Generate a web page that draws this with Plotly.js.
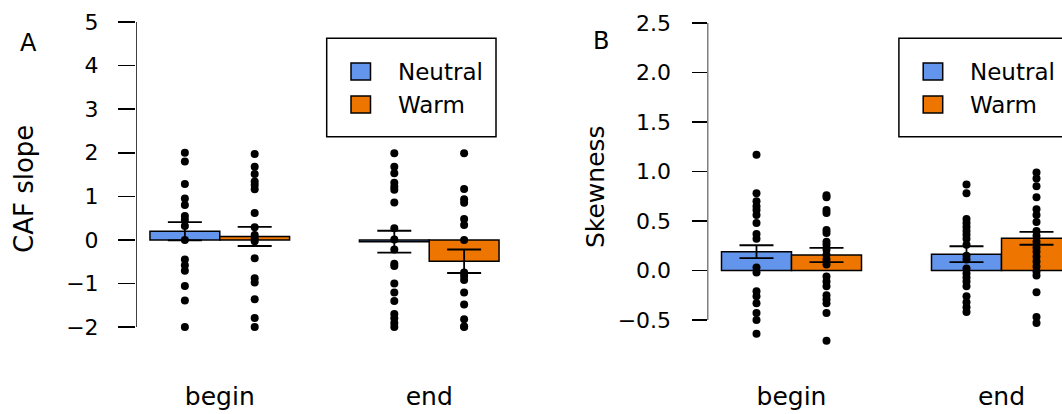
<!DOCTYPE html>
<html><head><meta charset="utf-8">
<script src="https://cdn.plot.ly/plotly-3.0.1.min.js"></script>
<style>html,body{margin:0;padding:0;background:#fff}</style>
</head><body><div id="chart" style="width:1062px;height:414px"></div>
<script>
// ---------- data ----------
const categories = ['begin', 'end'];
const conditions = ['Neutral', 'Warm'];

const cafNeutralMeans = [0.20, -0.04];
const cafWarmMeans    = [0.08, -0.49];
const cafNeutralSE    = [0.21, 0.25];
const cafWarmSE       = [0.22, 0.27];

const skewNeutralMeans = [0.19, 0.165];
const skewWarmMeans    = [0.157, 0.325];
const skewNeutralSE    = [0.065, 0.08];
const skewWarmSE       = [0.072, 0.065];

const cafNeutralBegin = [2.00, 1.80, 1.28, 0.95, 0.80, 0.55, 0.46, 0.32, 0.00, -0.45, -0.58, -0.71, -1.06, -1.39, -2.00];
const cafWarmBegin    = [1.97, 1.68, 1.51, 1.34, 1.26, 1.16, 0.62, 0.29, 0.11, 0.04, -0.03, -0.42, -0.88, -0.98, -1.36, -1.79, -2.00];
const cafNeutralEnd   = [1.99, 1.68, 1.53, 1.31, 1.22, 1.15, 0.86, 0.27, 0.01, -0.22, -0.55, -0.60, -1.00, -1.21, -1.40, -1.70, -1.80, -1.91, -2.00];
const cafWarmEnd      = [1.99, 1.17, 0.93, 0.85, 0.48, 0.34, 0.00, -0.75, -0.83, -0.92, -1.21, -1.48, -1.82, -1.99, -2.00];

const skewNeutralBegin = [1.17, 0.78, 0.70, 0.65, 0.61, 0.56, 0.48, 0.37, 0.32, 0.03, -0.02, -0.21, -0.26, -0.33, -0.43, -0.50, -0.64];
const skewWarmBegin    = [0.76, 0.74, 0.61, 0.58, 0.41, 0.38, 0.29, 0.26, 0.21, 0.16, 0.11, 0.06, -0.06, -0.11, -0.16, -0.25, -0.29, -0.33, -0.43, -0.71];
const skewNeutralEnd   = [0.87, 0.78, 0.52, 0.48, 0.44, 0.40, 0.36, 0.32, 0.26, 0.15, 0.11, 0.02, -0.03, -0.07, -0.11, -0.16, -0.26, -0.32, -0.37, -0.42];
const skewWarmEnd      = [0.99, 0.93, 0.85, 0.74, 0.62, 0.56, 0.49, 0.40, 0.35, 0.29, 0.23, 0.19, 0.14, 0.09, 0.04, -0.01, -0.05, -0.22, -0.47, -0.53];

const cafTickVals = [-2, -1, 0, 1, 2, 3, 4, 5];
const cafTickText = ['\u22122', '\u22121', '0', '1', '2', '3', '4', '5'];
const skewTickVals = [-0.5, 0, 0.5, 1, 1.5, 2, 2.5];
const skewTickText = ['\u22120.5', '0.0', '0.5', '1.0', '1.5', '2.0', '2.5'];

// ---------- styling ----------
const W = 1062, H = 414;
const FONT = 'DejaVu Sans, Liberation Sans, Arial, sans-serif';
const colors = {Neutral: '#6495ED', Warm: '#EE7600'};
const px = x => x / W;
const py = y => 1 - y / H;

// bar centre: groups of 2 bars, width 1, space 1 between groups
const barPos = (g, c) => 1 + g * 3 + c + 0.5;
const groupCentre = g => 1 + g * 3 + 1;

function panelTraces(xa, ya, means, ses, pts) {
  const tr = [];
  conditions.forEach((cond, c) => {
    tr.push({
      type: 'bar', xaxis: xa, yaxis: ya,
      x: categories.map((_, g) => barPos(g, c)),
      y: means[c], width: 1,
      marker: {color: colors[cond], line: {color: '#000', width: 1.5}},
      error_y: {type: 'data', array: ses[c], visible: true, color: '#000', thickness: 1.8, width: 17},
      showlegend: false, hoverinfo: 'skip'
    });
  });
  conditions.forEach((cond, c) => {
    categories.forEach((cat, g) => {
      const vals = pts[c][g];
      tr.push({
        type: 'scatter', mode: 'markers', xaxis: xa, yaxis: ya,
        x: vals.map(() => barPos(g, c)), y: vals,
        marker: {color: '#000', size: 8},
        showlegend: false, hoverinfo: 'skip', cliponaxis: false
      });
    });
  });
  return tr;
}

const traces = [].concat(
  panelTraces('x', 'y',
    [cafNeutralMeans, cafWarmMeans], [cafNeutralSE, cafWarmSE],
    [[cafNeutralBegin, cafNeutralEnd], [cafWarmBegin, cafWarmEnd]]),
  panelTraces('x2', 'y2',
    [skewNeutralMeans, skewWarmMeans], [skewNeutralSE, skewWarmSE],
    [[skewNeutralBegin, skewNeutralEnd], [skewWarmBegin, skewWarmEnd]])
);

const yDom = [py(350), py(5)];
const xAxisCommon = {
  showgrid: false, zeroline: false, showline: false, ticks: '',
  tickvals: categories.map((_, g) => groupCentre(g)), ticktext: categories,
  tickfont: {family: FONT, size: 25, color: '#000'}, ticklabelstandoff: 29, fixedrange: true
};
const yAxisCommon = {
  showgrid: false, zeroline: false, showline: false,
  ticks: 'outside', tickcolor: '#000', tickwidth: 1.5,
  tickfont: {family: FONT, size: 22, color: '#000'}, fixedrange: true
};

const layout = {
  width: W, height: H, margin: {l: 0, r: 0, t: 0, b: 0},
  paper_bgcolor: '#fff', plot_bgcolor: 'rgba(0,0,0,0)',
  showlegend: false, bargap: 0, barmode: 'overlay',
  font: {family: FONT, color: '#000'},
  xaxis: Object.assign({}, xAxisCommon, {domain: [px(136), px(513)], range: [0.8, 6.2], anchor: 'y'}),
  yaxis: Object.assign({}, yAxisCommon, {domain: yDom, range: [-2.527, 5.391], anchor: 'x',
    tickvals: cafTickVals, ticktext: cafTickText, ticklen: 17, ticklabelstandoff: 15}),
  xaxis2: Object.assign({}, xAxisCommon, {domain: [px(707.5), 1], range: [0.8, 0.8 + (W - 707.5) / 70], anchor: 'y2'}),
  yaxis2: Object.assign({}, yAxisCommon, {domain: yDom, range: [-0.803, 2.682], anchor: 'x2',
    tickvals: skewTickVals, ticktext: skewTickText, ticklen: 15, ticklabelstandoff: 16}),
  shapes: [],
  annotations: []
};

// R-style axis lines spanning first to last tick
layout.shapes.push({type: 'line', xref: 'x', yref: 'y', x0: 0.8, x1: 0.8,
  y0: cafTickVals[0], y1: cafTickVals[cafTickVals.length - 1], line: {color: '#000', width: 1.5}});
layout.shapes.push({type: 'line', xref: 'x2', yref: 'y2', x0: 0.8, x1: 0.8,
  y0: skewTickVals[0], y1: skewTickVals[skewTickVals.length - 1], line: {color: '#000', width: 1.5}});

// legends (box + swatches + labels)
function addLegend(dx) {
  layout.shapes.push({type: 'rect', xref: 'paper', yref: 'paper',
    x0: px(326.7 + dx), x1: px(496 + dx), y0: py(136.7), y1: py(38.3),
    line: {color: '#000', width: 1.5}, fillcolor: '#fff', layer: 'above'});
  conditions.forEach((cond, i) => {
    const cy = 71.5 + i * 33;
    layout.shapes.push({type: 'rect', xref: 'paper', yref: 'paper',
      x0: px(351 + dx), x1: px(370.5 + dx), y0: py(cy + 8.5), y1: py(cy - 8.5),
      line: {color: '#000', width: 1.5}, fillcolor: colors[cond], layer: 'above'});
    layout.annotations.push({xref: 'paper', yref: 'paper', x: px(396 + dx), y: py(cy),
      xanchor: 'left', yanchor: 'middle', showarrow: false, text: cond,
      font: {family: FONT, size: 23, color: '#000'}});
  });
}
addLegend(0);
addLegend(572.2);

// panel letters and y titles
layout.annotations.push(
  {xref: 'paper', yref: 'paper', x: px(28.5), y: py(43), xanchor: 'center', yanchor: 'middle', showarrow: false,
   text: 'A', font: {family: FONT, size: 24, color: '#000'}},
  {xref: 'paper', yref: 'paper', x: px(601), y: py(41), xanchor: 'center', yanchor: 'middle', showarrow: false,
   text: 'B', font: {family: FONT, size: 24, color: '#000'}},
  {xref: 'paper', yref: 'paper', x: px(24), y: py(189), xanchor: 'center', yanchor: 'middle', showarrow: false,
   text: 'CAF slope', textangle: -90, font: {family: FONT, size: 26, color: '#000'}},
  {xref: 'paper', yref: 'paper', x: px(595), y: py(187), xanchor: 'center', yanchor: 'middle', showarrow: false,
   text: 'Skewness', textangle: -90, font: {family: FONT, size: 25, color: '#000'}}
);

Plotly.newPlot('chart', traces, layout, {staticPlot: true, displayModeBar: false});
</script></body></html>
